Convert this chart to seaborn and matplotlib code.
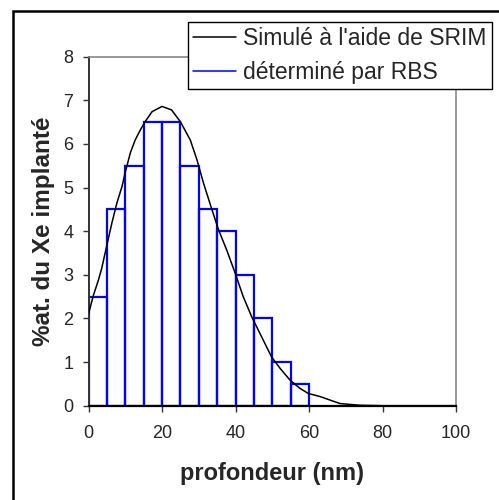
import matplotlib
matplotlib.use("Agg")
import matplotlib.pyplot as plt
import seaborn as sns
from matplotlib.lines import Line2D
from matplotlib.patches import Rectangle

# SRIM simulated profile
srim_depth = [0, 1.3, 2.7, 3.6, 5, 6.4, 7.7, 9.1, 10, 11.4, 12.7, 14.1, 15.4, 17.3,
              20, 22.6, 25, 27.7, 29.5, 31.3, 33.6, 35.4, 37.6, 39.9, 42.1, 44.4,
              47.1, 49.8, 52.1, 54.8, 57.5, 59.8, 63, 65.7, 68.4, 71, 74, 80, 100]
srim_conc = [2.1, 2.52, 2.88, 3.15, 3.68, 4.2, 4.64, 5.02, 5.35, 5.8, 6.09, 6.32, 6.51, 6.74,
             6.86, 6.78, 6.51, 6.09, 5.64, 5.10, 4.49, 4.03, 3.57, 3.04, 2.50, 2.04,
             1.58, 1.12, 0.86, 0.59, 0.40, 0.28, 0.21, 0.13, 0.05, 0.03, 0.01, 0, 0]

# RBS histogram (5 nm slices)
rbs_edges = [0, 5, 10, 15, 20, 25, 30, 35, 40, 45, 50, 55, 60]
rbs_centers = [2.5, 7.5, 12.5, 17.5, 22.5, 27.5, 32.5, 37.5, 42.5, 47.5, 52.5, 57.5]
rbs_conc = [2.5, 4.5, 5.5, 6.5, 6.5, 5.5, 4.5, 4, 3, 2, 1, 0.5]

x_ticks = [0, 20, 40, 60, 80, 100]
y_ticks = [0, 1, 2, 3, 4, 5, 6, 7, 8]

sns.set_theme(style="white")
plt.rcParams['font.family'] = ['Liberation Sans', 'DejaVu Sans']

fig = plt.figure(figsize=(4.99, 5.0), dpi=100)
ax = fig.add_axes([88.5 / 499, 1 - 405.7 / 500, (456 - 88.5) / 499, (405.7 - 56.7) / 500])

sns.histplot(x=rbs_centers, weights=rbs_conc, bins=rbs_edges, fill=False,
             color="#0000ff", linewidth=1.6, ax=ax, zorder=2)
sns.lineplot(x=srim_depth, y=srim_conc, color="black", linewidth=1.1, ax=ax, zorder=3)

ax.set_xlim(0, 100)
ax.set_ylim(0, 8)
ax.set_xticks(x_ticks)
ax.set_yticks(y_ticks)
ax.tick_params(axis="both", labelsize=13, length=4, width=1, color="#333333",
               direction="out", left=True, bottom=True)
ax.tick_params(axis="x", pad=10)
ax.tick_params(axis="y", pad=7)
ax.set_xlabel("profondeur (nm)", fontsize=17, fontweight="bold", labelpad=14)
ax.set_ylabel("%at. du Xe implanté", fontsize=17.5, fontweight="bold", labelpad=6)

for side in ["top", "right"]:
    ax.spines[side].set_color("#888888")
    ax.spines[side].set_linewidth(1.2)
ax.spines["left"].set_color("#333333")
ax.spines["left"].set_linewidth(1.4)
ax.spines["bottom"].set_color("black")
ax.spines["bottom"].set_linewidth(1.6)

handles = [Line2D([], [], color="black", linewidth=1.1),
           Line2D([], [], color="#0000ff", linewidth=1.1)]
leg = fig.legend(handles, ["Simulé à l'aide de SRIM", "déterminé par RBS"],
                 loc="upper right", bbox_to_anchor=(491.7 / 499, 1 - 21.7 / 500),
                 fontsize=16.5, frameon=True, fancybox=False, framealpha=1,
                 edgecolor="black", handlelength=1.85, handletextpad=0.3,
                 borderpad=0.25, labelspacing=0.45, borderaxespad=0)
leg.get_frame().set_linewidth(1.0)

# outer frame (cropped on the right and bottom)
fig.patches.append(Rectangle((12.5 / 499, -0.1), 1.2, 1 - 11 / 500 + 0.1,
                             transform=fig.transFigure, fill=False,
                             edgecolor="black", linewidth=1.8))

fig.savefig("out.png", dpi=100)
